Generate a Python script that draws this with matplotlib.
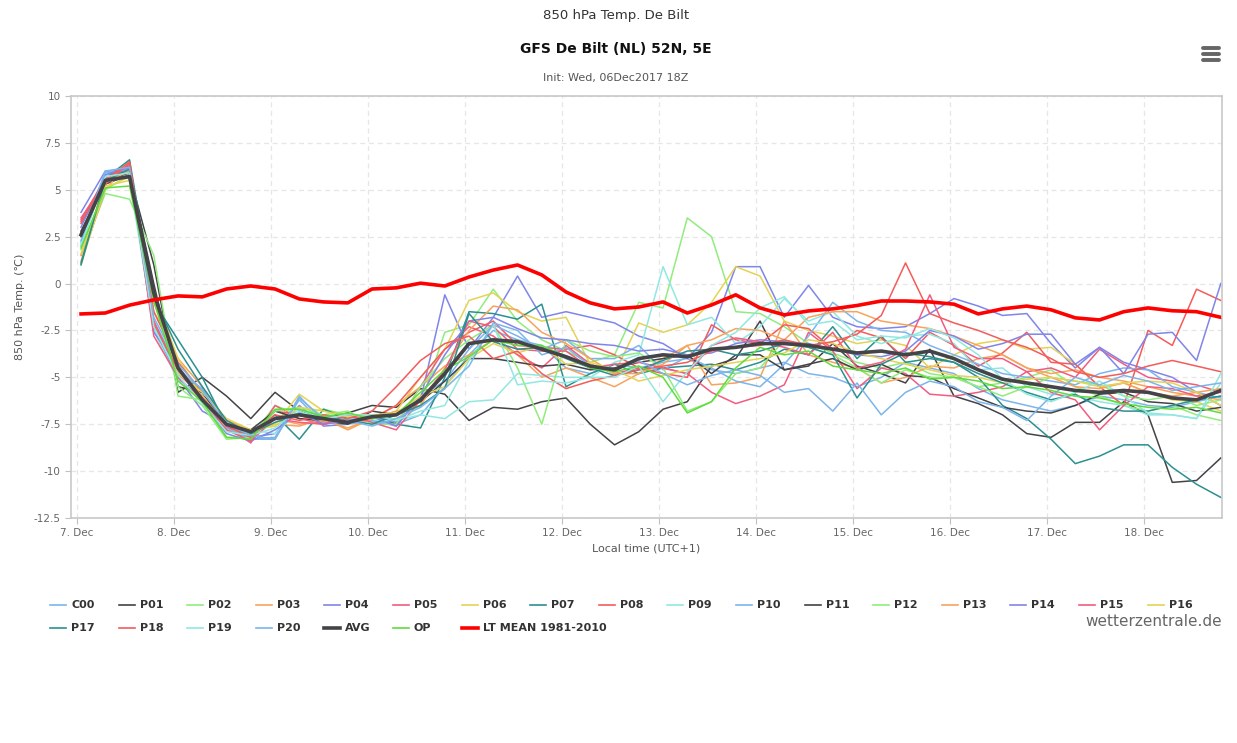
import matplotlib
matplotlib.use("Agg")
import matplotlib.pyplot as plt
from matplotlib.lines import Line2D
import numpy as np

names = ["C00","P01","P02","P03","P04","P05","P06","P07","P08","P09","P10",
         "P11","P12","P13","P14","P15","P16","P17","P18","P19","P20"]
series = {
"C00":[2.0,5.8,6.0,-2.0,-4.5,-5.8,-7.8,-8.3,-8.2,-6.2,-7.5,-7.2,-7.3,-7.5,-7.0,-5.5,-3.8,-2.5,-3.0,-3.3,-4.5,-4.8,-4.3,-4.5,-4.2,-4.0,-4.6,-4.8,-4.5,-4.2,-4.8,-5.0,-5.5,-5.0,-4.2,-4.5,-4.8,-5.6,-6.2,-6.5,-6.8,-6.5,-6.0,-6.2,-6.5,-6.6,-6.3,-6.0],
"P01":[2.8,5.3,5.8,1.0,-5.8,-5.0,-6.0,-7.2,-5.8,-6.8,-7.2,-6.9,-6.5,-6.6,-5.6,-5.9,-7.3,-6.6,-6.7,-6.3,-6.1,-7.5,-8.6,-7.9,-6.7,-6.3,-4.4,-4.0,-2.0,-4.6,-4.4,-3.2,-4.4,-4.8,-5.3,-3.5,-6.0,-6.4,-7.0,-8.0,-8.2,-7.4,-7.4,-6.3,-7.0,-10.6,-10.5,-9.3],
"P02":[1.5,4.8,4.5,1.5,-6.0,-6.2,-8.2,-8.2,-6.5,-7.0,-6.7,-7.0,-7.2,-7.2,-6.5,-2.6,-2.2,-0.3,-2.0,-3.0,-3.6,-4.2,-3.8,-1.0,-1.3,3.5,2.5,-1.5,-1.6,-2.3,-3.2,-3.7,-4.2,-4.5,-4.2,-4.8,-5.0,-5.5,-5.3,-5.0,-4.6,-5.5,-6.0,-6.5,-6.8,-6.5,-7.0,-7.3],
"P03":[1.2,5.0,6.5,-1.5,-4.0,-5.5,-7.3,-7.8,-7.5,-7.6,-7.2,-7.8,-7.2,-6.5,-5.5,-4.4,-3.8,-3.0,-3.8,-5.0,-4.5,-5.0,-5.5,-4.8,-4.0,-3.3,-5.4,-5.3,-5.0,-2.0,-3.8,-4.2,-4.5,-5.3,-5.0,-4.4,-4.5,-4.0,-3.8,-4.5,-4.8,-4.6,-5.0,-5.2,-5.5,-5.8,-6.0,-6.2],
"P04":[3.8,6.0,6.0,-2.5,-5.0,-6.8,-7.5,-8.2,-8.0,-6.5,-7.6,-7.5,-7.0,-7.4,-6.2,-0.6,-3.5,-1.8,0.4,-1.8,-1.5,-1.8,-2.1,-2.8,-3.2,-4.0,-2.6,0.9,0.9,-1.8,-0.1,-1.8,-2.3,-2.4,-2.3,-1.6,-0.8,-1.2,-1.7,-1.6,-3.2,-4.5,-3.4,-4.2,-4.6,-5.0,-5.8,-6.5],
"P05":[3.5,5.4,6.2,-2.0,-4.8,-6.0,-7.6,-8.5,-6.5,-7.2,-7.5,-7.2,-7.0,-7.5,-5.5,-3.5,-2.3,-2.8,-3.8,-4.5,-3.3,-4.3,-4.8,-4.5,-4.5,-4.8,-5.8,-6.4,-6.0,-5.4,-2.6,-3.6,-5.6,-4.5,-4.8,-5.9,-6.0,-5.8,-5.5,-4.7,-4.5,-5.0,-3.5,-4.3,-5.0,-5.2,-5.4,-5.8],
"P06":[1.0,5.2,5.5,-0.5,-4.0,-6.0,-7.8,-8.0,-7.5,-5.9,-6.8,-7.0,-7.2,-6.8,-5.0,-3.5,-0.9,-0.5,-1.5,-2.0,-1.8,-4.3,-4.8,-2.1,-2.6,-2.2,-1.0,0.9,0.4,-2.0,-2.5,-2.8,-3.2,-3.0,-3.3,-4.5,-3.8,-3.2,-3.0,-3.5,-3.4,-4.3,-5.5,-5.3,-5.8,-6.2,-6.3,-6.8],
"P07":[1.0,5.6,6.6,-1.0,-3.0,-5.0,-7.6,-8.1,-7.0,-8.3,-6.7,-7.2,-7.0,-7.5,-7.7,-5.0,-1.5,-1.6,-1.9,-1.1,-5.5,-4.8,-4.3,-4.8,-4.5,-4.4,-4.3,-4.6,-4.2,-3.5,-3.8,-2.3,-4.0,-2.8,-4.2,-4.0,-4.2,-5.0,-6.5,-7.2,-8.3,-9.6,-9.2,-8.6,-8.6,-9.8,-10.7,-11.4],
"P08":[3.2,5.3,6.4,-1.5,-4.2,-5.8,-7.5,-8.3,-6.8,-7.0,-7.5,-7.2,-7.2,-6.5,-5.0,-3.5,-2.6,-2.0,-3.3,-3.4,-3.5,-3.3,-3.8,-4.5,-4.8,-5.0,-2.2,-3.0,-3.2,-2.2,-2.4,-3.5,-2.5,-2.9,-4.0,-2.6,-3.3,-4.4,-3.7,-2.6,-4.2,-4.3,-5.5,-6.5,-2.5,-3.3,-0.3,-0.9],
"P09":[2.0,5.8,5.6,-2.5,-5.2,-5.9,-7.6,-7.8,-8.0,-6.8,-7.3,-7.2,-7.3,-7.3,-7.0,-7.2,-6.3,-6.2,-4.8,-4.9,-5.0,-5.0,-4.2,-3.8,0.9,-2.2,-1.8,-3.2,-2.3,-0.8,-2.0,-1.5,-2.8,-3.2,-2.8,-2.7,-3.2,-4.6,-4.5,-5.5,-5.9,-6.0,-6.3,-6.5,-7.0,-7.0,-7.2,-5.3],
"P10":[2.2,5.9,6.1,-2.2,-4.7,-5.6,-7.7,-8.3,-8.3,-6.0,-7.4,-7.5,-7.3,-7.6,-6.0,-5.2,-3.5,-2.2,-2.8,-3.5,-3.0,-4.0,-4.0,-3.3,-4.6,-3.9,-4.5,-5.2,-5.5,-4.3,-2.8,-1.0,-2.0,-2.5,-2.6,-3.3,-3.8,-4.3,-4.8,-5.0,-5.2,-5.4,-4.8,-4.5,-4.6,-5.5,-5.8,-6.1],
"P11":[2.5,5.5,5.9,0.0,-5.5,-5.8,-7.6,-7.8,-6.8,-7.2,-7.3,-7.5,-6.8,-7.0,-6.3,-5.2,-4.0,-4.0,-4.2,-4.4,-4.3,-4.6,-4.5,-4.2,-4.0,-3.8,-4.8,-3.8,-3.8,-4.6,-4.3,-4.0,-4.6,-4.3,-4.9,-5.0,-5.6,-6.1,-6.6,-6.8,-6.9,-6.5,-5.9,-5.8,-6.3,-6.4,-6.8,-6.6],
"P12":[1.8,5.0,5.8,-0.5,-5.5,-6.5,-8.3,-8.2,-6.8,-6.6,-7.0,-6.8,-7.5,-7.5,-5.5,-4.0,-3.0,-2.2,-4.5,-7.5,-3.0,-3.6,-3.9,-3.7,-4.5,-6.8,-6.3,-4.8,-4.5,-3.0,-3.4,-3.8,-4.5,-5.3,-4.6,-5.0,-5.0,-5.5,-6.0,-5.5,-5.0,-5.2,-5.4,-6.0,-6.2,-6.0,-6.5,-6.2],
"P13":[1.5,5.4,6.0,-1.0,-4.5,-6.0,-7.5,-8.0,-7.2,-7.5,-7.3,-7.7,-7.2,-6.8,-6.5,-4.5,-2.5,-1.2,-1.4,-2.6,-3.2,-4.0,-4.8,-4.8,-4.3,-3.3,-3.0,-2.4,-2.5,-3.0,-1.8,-1.5,-1.5,-2.0,-2.2,-2.4,-2.8,-3.3,-3.8,-4.5,-5.0,-5.5,-5.6,-5.3,-5.8,-6.0,-5.8,-5.6],
"P14":[3.0,5.8,6.2,-2.6,-4.4,-6.3,-8.0,-8.4,-7.8,-6.9,-7.5,-7.3,-7.1,-7.6,-6.0,-3.8,-2.0,-1.8,-2.4,-2.9,-3.0,-3.2,-3.3,-3.6,-3.5,-3.8,-3.7,-3.2,-3.0,-3.1,-3.2,-3.5,-3.8,-3.9,-3.6,-2.5,-2.8,-3.5,-3.2,-2.7,-2.7,-4.3,-3.4,-4.8,-2.7,-2.6,-4.1,0.0],
"P15":[3.4,5.6,6.3,-2.8,-5.0,-6.2,-7.8,-8.4,-7.2,-7.4,-7.5,-7.0,-7.4,-7.8,-6.2,-4.6,-2.0,-2.3,-3.5,-3.6,-3.6,-4.5,-4.3,-4.2,-4.5,-4.8,-3.3,-2.9,-3.1,-3.4,-3.8,-2.6,-4.5,-4.2,-3.5,-0.6,-3.4,-4.0,-4.0,-4.7,-5.8,-6.2,-7.8,-6.5,-5.5,-5.6,-6.0,-5.8],
"P16":[1.6,5.1,5.7,-0.8,-4.8,-5.8,-7.2,-7.8,-7.6,-6.6,-6.8,-7.1,-7.0,-6.9,-6.0,-5.5,-4.0,-3.2,-3.7,-3.3,-4.3,-4.2,-4.6,-5.2,-4.9,-4.6,-4.4,-4.2,-4.0,-3.7,-3.0,-3.2,-3.7,-4.0,-4.3,-4.6,-4.9,-5.0,-5.3,-5.1,-5.0,-5.2,-5.5,-5.3,-5.2,-5.3,-5.8,-6.5],
"P17":[1.1,5.5,6.1,-0.7,-3.5,-5.5,-7.3,-8.0,-7.4,-7.0,-7.1,-7.3,-7.5,-7.0,-6.5,-5.6,-1.6,-3.1,-3.5,-3.4,-4.0,-4.5,-4.9,-4.6,-4.1,-3.6,-3.5,-3.8,-3.6,-3.2,-3.4,-3.8,-6.1,-4.3,-3.7,-3.9,-4.2,-4.8,-5.3,-5.8,-6.2,-5.9,-6.6,-6.8,-6.8,-6.5,-6.2,-6.0],
"P18":[3.3,5.5,6.5,-2.2,-4.6,-6.1,-7.6,-8.2,-7.0,-7.3,-7.0,-7.2,-6.8,-5.5,-4.1,-3.2,-2.8,-4.0,-3.6,-4.8,-5.6,-5.2,-4.9,-4.6,-4.4,-4.2,-3.6,-3.4,-3.3,-3.0,-3.3,-3.1,-2.7,-1.7,1.1,-1.6,-2.1,-2.5,-3.0,-3.4,-4.0,-4.7,-5.0,-4.8,-4.4,-4.1,-4.4,-4.7],
"P19":[2.1,5.7,5.9,-2.3,-4.9,-6.4,-7.9,-8.1,-7.7,-6.7,-7.2,-7.0,-7.0,-7.3,-6.8,-6.5,-4.1,-2.2,-5.4,-5.2,-5.3,-5.0,-5.0,-4.4,-6.3,-4.7,-3.3,-2.6,-1.3,-0.7,-2.2,-2.0,-3.0,-2.8,-2.9,-2.4,-2.9,-3.8,-5.1,-5.9,-6.3,-5.8,-5.2,-6.0,-6.9,-7.0,-7.2,-4.8],
"P20":[2.3,6.0,6.2,-1.8,-4.3,-5.7,-7.5,-8.1,-8.3,-6.1,-7.2,-7.3,-7.6,-7.2,-6.6,-5.6,-4.4,-2.1,-2.5,-3.8,-3.4,-4.4,-4.6,-4.1,-4.8,-5.4,-4.9,-4.6,-4.9,-5.8,-5.6,-6.8,-5.3,-7.0,-5.8,-5.2,-5.5,-6.3,-6.6,-7.3,-6.0,-5.0,-5.4,-4.9,-5.2,-5.7,-5.5,-5.3],
}
avg = [2.6,5.5,5.7,-0.5,-4.5,-6.2,-7.5,-7.9,-7.2,-7.0,-7.2,-7.4,-7.1,-7.0,-6.2,-4.8,-3.2,-3.0,-3.1,-3.5,-3.9,-4.4,-4.6,-4.0,-3.8,-3.9,-3.5,-3.4,-3.2,-3.2,-3.3,-3.5,-3.7,-3.6,-3.8,-3.6,-4.0,-4.6,-5.1,-5.3,-5.5,-5.7,-5.8,-5.7,-5.8,-6.1,-6.2,-5.7]
op = [1.9,5.1,5.2,-0.9,-5.2,-6.3,-8.2,-8.3,-6.7,-6.7,-7.1,-6.9,-7.2,-7.0,-5.8,-4.6,-3.9,-3.0,-3.3,-3.3,-3.9,-4.5,-4.7,-4.4,-5.0,-6.9,-6.3,-4.5,-3.4,-3.8,-3.6,-4.4,-4.6,-4.8,-4.5,-5.1,-5.0,-5.2,-5.6,-5.5,-5.7,-6.0,-6.1,-6.4,-6.6,-6.7,-6.6,-6.9]
lt_mean = [-1.62,-1.57,-1.15,-0.87,-0.66,-0.71,-0.29,-0.13,-0.29,-0.82,-0.98,-1.03,-0.29,-0.23,0.02,-0.13,0.35,0.72,0.99,0.46,-0.45,-1.03,-1.35,-1.25,-0.98,-1.57,-1.14,-0.6,-1.3,-1.67,-1.46,-1.35,-1.17,-0.93,-0.93,-0.98,-1.1,-1.62,-1.35,-1.2,-1.4,-1.83,-1.94,-1.5,-1.3,-1.45,-1.5,-1.8]
day_labels = ["7. Dec","8. Dec","9. Dec","10. Dec","11. Dec","12. Dec","13. Dec","14. Dec","15. Dec","16. Dec","17. Dec","18. Dec"]

palette = ["#7cb5ec","#434348","#90ed7d","#f7a35c","#8085e9","#f15c80","#e4d354","#2b908f","#f45b5b","#91e8e1"]
colors = {n: palette[i % 10] for i, n in enumerate(names)}

t = 7 + 1/24 + 0.25*np.arange(len(avg))

fig = plt.figure(figsize=(12.37, 7.43), dpi=100)
W, H = 1237, 743
ax = fig.add_axes([71/W, 1-518/H, (1222-71)/W, 422/H])
for n in names:
    ax.plot(t, series[n], color=colors[n], lw=1.1)
ax.plot(t, op, color="#5fdc3c", lw=1.1)
ax.plot(t, avg, color="#434348", lw=2.6)
ax.plot(t, lt_mean, color="#ff0000", lw=2.6)

ax.set_xlim(7-6/97, 7+(1222-77)/97)
ax.set_ylim(-12.5, 10)
ax.set_yticks(np.arange(-12.5, 10.01, 2.5))
ax.set_yticklabels([("%g" % v) for v in np.arange(-12.5, 10.01, 2.5)])
ax.set_xticks(np.arange(7, 19))
ax.set_xticklabels(day_labels)
ax.grid(True, color="#e6e6e6", ls=(0, (4, 3)), lw=0.9)
for s in ax.spines.values():
    s.set_color("#c8c8c8"); s.set_linewidth(1.2)
ax.tick_params(labelsize=7.5, colors="#666666", length=4, color="#c0c0c0")
ax.set_xlabel("Local time (UTC+1)", fontsize=8, color="#555555", labelpad=4)
ax.set_ylabel("850 hPa Temp. (℃)", fontsize=8, color="#555555", labelpad=6)

fig.text(616/W, 1-16/H, "850 hPa Temp. De Bilt", ha="center", va="center", fontsize=9.5, color="#333333")
fig.text(616/W, 1-49/H, "GFS De Bilt (NL) 52N, 5E", ha="center", va="center", fontsize=10, color="#111111", weight="bold")
fig.text(616/W, 1-78/H, "Init: Wed, 06Dec2017 18Z", ha="center", va="center", fontsize=8, color="#555555")
fig.text(1222/W, 1-622/H, "wetterzentrale.de", ha="right", va="center", fontsize=11, color="#666666")
for dy in (-6, 0, 6):
    fig.add_artist(Line2D([1203/W, 1219/W], [1-(54+dy)/H]*2, color="#666666", lw=2.8, solid_capstyle="round"))

entries = [(n, colors[n], 1.2) for n in names] + [("AVG", "#434348", 2.6), ("OP", "#5fdc3c", 1.2), ("LT MEAN 1981-2010", "#ff0000", 2.6)]
for i, (lab, c, lw) in enumerate(entries):
    row, col = divmod(i, 17)
    x0 = 50 + col*68.6
    y = 1-(605 + row*23)/H
    fig.add_artist(Line2D([x0/W, (x0+16)/W], [y, y], color=c, lw=lw))
    fig.text((x0+21)/W, y, lab, ha="left", va="center", fontsize=8, color="#333333", weight="bold")

fig.savefig("out.png", dpi=100)
